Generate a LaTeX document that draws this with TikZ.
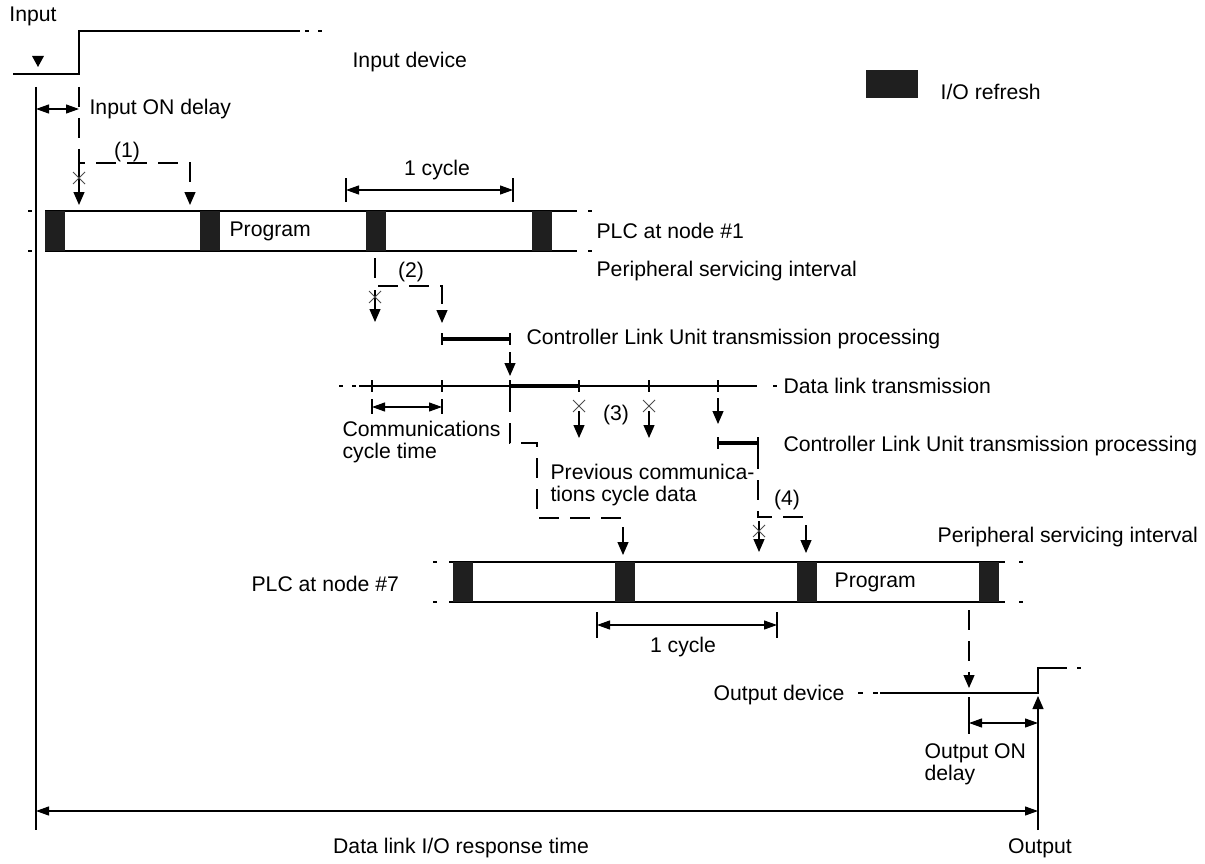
\documentclass[tikz,border=0pt]{standalone}
\usepackage{fontspec}
\setmainfont{Liberation Sans}
\usetikzlibrary{arrows.meta,positioning}

\begin{document}
\begin{tikzpicture}[x=1pt,y=-1pt,line width=1.2pt,lbl/.style={inner sep=0pt,font=\fontsize{21.2}{22}\selectfont,align=left},ioblk/.style={fill=black!88,draw=none},arr/.style={-{Triangle[length=13pt,width=11pt]}},dimarr/.style={{Triangle[length=13pt,width=9pt]}-{Triangle[length=13pt,width=9pt]}},dashln/.style={dash pattern=on 20pt off 11pt},clu/.style={line width=3.6pt},xmark/.pic={\draw[line width=0.9pt,black!70] (-6,-6)--(6,6) (-6,6)--(6,-6);}]
\useasboundingbox (0,0) rectangle (1205,864);
\node[lbl] (tin) at (33,16) {Input};
\draw (13,74)--(79,74)--(79,31)--(300,31);\draw (305,31)--(309,31) (318,31)--(322,31);
\fill (32,56)--(44,56)--(38,67)--cycle;
\node[lbl,anchor=west] (tindev) at (352,62) {Input device};
\draw (36,87)--(36,830);
\draw[dimarr] (36,109)--(79,109);
\node[lbl,anchor=west] (tondly) at (89,109) {Input ON delay};
\draw[dashln,arr] (79,87)--(79,163)--(190,163)--(190,205);
\draw[arr] (79,163)--(79,205);\pic at (79,178) {xmark};
\node[lbl] (t1) at (127,152) {(1)};
\draw (45,211)--(577,211) (45,251)--(577,251);\draw (28,211)--(32,211) (28,251)--(32,251) (588,211)--(592,211) (588,251)--(592,251);
\foreach \bx in {45,200,366,532} \fill[ioblk] (\bx,211) rectangle ++(20,40);
\node[lbl,anchor=west] (tprog1) at (229,231) {Program};
\draw[dimarr] (346,190)--(513,190);\draw (346,178)--(346,202) (513,178)--(513,202);
\node[lbl] (tcyc1) at (437,170) {1 cycle};
\node[lbl,anchor=west] (tplc1) at (596,231) {PLC at node \#1};
\node[lbl,anchor=west] (tpsi1) at (596,271) {Peripheral servicing interval};
\fill[ioblk] (866,70) rectangle (918,98);
\node[lbl,anchor=west] (tio) at (940,92) {I/O refresh};
\draw[dashln,arr] (375,258)--(375,286)--(442,286)--(442,323);
\draw[arr] (375,290)--(375,322);\pic at (375,297) {xmark};
\node[lbl] (t2) at (411,272) {(2)};
\draw[clu] (442,339)--(510,339);\draw (442,333)--(442,345) (510,333)--(510,345);
\node[lbl,anchor=west] (tclu1) at (526,339) {Controller Link Unit transmission processing};
\draw[arr] (510,352)--(510,376);
\draw (339,386)--(343,386) (352,386)--(356,386) (773,386)--(777,386);\draw (359,386)--(757,386);
\foreach \tx in {372,442,510,579,649,718} \draw (\tx,380)--(\tx,392);
\draw[clu] (510,386)--(579,386);
\node[lbl,anchor=west] (tdl) at (783,386) {Data link transmission};
\draw[dimarr] (372,407)--(442,407);\draw (372,399)--(372,414) (442,399)--(442,414);
\node[lbl,anchor=west] (tcct) at (342,442) {Communications\\cycle time};
\draw[dashln,arr] (510,392)--(510,443)--(537,443)--(537,518)--(623,518)--(623,555);
\node[lbl,anchor=west] (tprev) at (550,485) {Previous communica-\\tions cycle data};
\foreach \cx in {579,649} {\pic at (\cx,406) {xmark};\draw[arr] (\cx,411)--(\cx,438);}
\node[lbl] (t3) at (616,415) {(3)};
\draw[arr] (718,398)--(718,424);
\draw[clu] (718,443)--(758,443);\draw (718,437)--(718,449) (758,437)--(758,449);
\node[lbl,anchor=west] (tclu2) at (783,446) {Controller Link Unit transmission processing};
\draw[dashln,arr] (758,449)--(758,517)--(806,517)--(806,553);
\draw[arr] (759,521)--(759,552);\pic at (759,531) {xmark};
\node[lbl] (t4) at (787,500) {(4)};
\draw (449,562)--(1005,562) (449,602)--(1005,602);\draw (433,562)--(437,562) (433,602)--(437,602) (1019,562)--(1023,562) (1019,602)--(1023,602);
\foreach \bx in {453,615,797,979} \fill[ioblk] (\bx,562) rectangle ++(20,40);
\node[lbl,anchor=west] (tprog7) at (834,582) {Program};
\node[lbl,anchor=west] (tplc7) at (251,584) {PLC at node \#7};
\node[lbl,anchor=west] (tpsi7) at (937,537) {Peripheral servicing interval};
\draw[dimarr] (597,625)--(777,625);\draw (597,612)--(597,638) (777,612)--(777,638);
\node[lbl] (tcyc7) at (683,647) {1 cycle};
\draw[dashln,arr] (969,610)--(969,688);
\draw (858,693)--(863,693) (873,693)--(878,693) (1077,668)--(1081,668);\draw (880,693)--(1038,693)--(1038,668)--(1067,668);
\node[lbl,anchor=west] (toutdev) at (713,695) {Output device};
\draw (969,697)--(969,734);\draw[dimarr] (969,723)--(1038,723);
\node[lbl,anchor=west] (tondly2) at (924,764) {Output ON\\delay};
\draw[arr] (1038,830)--(1038,696);
\draw[dimarr] (36,811)--(1038,811);
\node[lbl] (tresp) at (461,848) {Data link I/O response time};
\node[lbl] (tout) at (1040,848) {Output};
\end{tikzpicture}
\end{document}
